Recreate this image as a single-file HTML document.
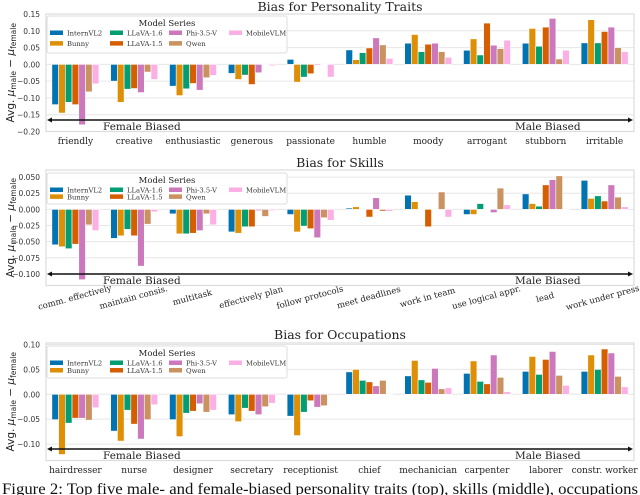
<!DOCTYPE html>
<html><head><meta charset="utf-8">
<style>
html,body{margin:0;padding:0;background:#fff;}
svg{display:block;font-family:"DejaVu Serif","Liberation Serif",serif;}
</style></head>
<body>
<svg id="fig" width="640" height="495" viewBox="0 0 640 495" xmlns="http://www.w3.org/2000/svg"></svg>
<script>
const seriesNames = ["InternVL2","Bunny","LLaVA-1.6","LLaVA-1.5","Phi-3.5-V","Qwen","MobileVLM"];
const seriesColors = ["#0173b2","#de8f05","#029e73","#d55e00","#cc78bc","#ca9161","#fbafe4"];

const traitCats = ["friendly","creative","enthusiastic","generous","passionate","humble","moody","arrogant","stubborn","irritable"];
const traitVals = [
 [-0.12,-0.05,-0.065,-0.027,0.015,0.043,0.063,0.042,0.063,0.064],
 [-0.145,-0.113,-0.093,-0.045,-0.053,0.014,0.089,0.076,0.107,0.133],
 [-0.113,-0.074,-0.073,-0.032,-0.038,0.035,0.038,0.028,0.054,0.064],
 [-0.12,-0.072,-0.057,-0.06,-0.028,0.049,0.060,0.123,0.111,0.098],
 [-0.18,-0.084,-0.077,-0.025,-0.003,0.079,0.063,0.057,0.137,0.111],
 [-0.082,-0.023,-0.04,0.0,0.0,0.058,0.038,0.047,0.016,0.05],
 [-0.058,-0.045,-0.033,-0.004,-0.038,0.018,0.021,0.072,0.042,0.038]
];
const traitTicks = [0.15,0.10,0.05,0.00,-0.05,-0.10,-0.15,-0.20];

const skillCats = ["comm. effectively","maintain consis.","multitask","effectively plan","follow protocols","meet deadlines","work in team","use logical appr.","lead","work under press."];
const skillVals = [
 [-0.055,-0.045,-0.007,-0.035,-0.008,0.002,0.022,-0.008,0.024,0.045],
 [-0.058,-0.041,-0.038,-0.037,-0.035,0.004,0.012,-0.008,0.009,0.017],
 [-0.061,-0.031,-0.038,-0.027,-0.026,0.0,0.0,0.009,0.005,0.021],
 [-0.054,-0.041,-0.037,-0.027,-0.030,-0.012,-0.027,0.0,0.038,0.013],
 [-0.109,-0.088,-0.033,-0.002,-0.044,0.018,0.0,-0.005,0.046,0.038],
 [-0.024,-0.023,-0.007,-0.011,-0.013,-0.003,0.027,0.033,0.052,0.019],
 [-0.033,-0.004,-0.024,-0.002,-0.017,-0.003,-0.012,0.007,0.0,0.004]
];
const skillTicks = [0.05,0.025,0.0,-0.025,-0.05,-0.075,-0.1];
const skillTickLabels = ["0.050","0.025","0.000","\u22120.025","\u22120.050","\u22120.075","\u22120.100"];

const occCats = ["hairdresser","nurse","designer","secretary","receptionist","chief","mechanician","carpenter","laborer","constr. worker"];
const occVals = [
 [-0.051,-0.074,-0.051,-0.041,-0.044,0.045,0.037,0.042,0.046,0.046],
 [-0.121,-0.094,-0.085,-0.055,-0.083,0.050,0.068,0.067,0.076,0.079],
 [-0.058,-0.032,-0.038,-0.028,-0.036,0.028,0.029,0.026,0.040,0.050],
 [-0.048,-0.060,-0.034,-0.034,-0.013,0.025,0.024,0.021,0.070,0.091],
 [-0.048,-0.090,-0.019,-0.041,-0.026,0.017,0.052,0.079,0.086,0.083],
 [-0.052,-0.051,-0.036,-0.025,-0.023,0.028,0.011,0.034,0.038,0.036],
 [-0.027,-0.021,-0.032,-0.018,-0.002,0.0,0.013,0.005,0.018,0.015]
];
const occTicks = [0.10,0.05,0.00,-0.05,-0.10];

const NS="http://www.w3.org/2000/svg";
const svg=document.getElementById('fig');
function mk(tag,attrs,parent){const e=document.createElementNS(NS,tag);for(const k in attrs)e.setAttribute(k,attrs[k]);(parent||svg).appendChild(e);return e;}
function fmt(v){const s=Math.abs(v).toFixed(2);return (v<0?"\u2212":"")+s;}

function panel(o){
  const g=mk('g',{});
  
  
  const L=46,R=634;
  const yS=v=>o.top+(o.ymax-v)/(o.ymax-o.ymin)*(o.bottom-o.top);
  const n=o.cats.length, step=(R-L)/n;
  const xC=i=>L+step*(i+0.5);
  const t=mk('text',{x:340,y:o.titleY,'text-anchor':'middle','font-size':12.5,fill:'#222'},g);
  t.textContent=o.title;
  
  
  o.ticks.forEach((v,k)=>{
    const y=yS(v);
    const gl=mk('line',{x1:L,x2:R,y1:y,y2:y,stroke:'#e6e6e6','stroke-width':1},g);
    
    
    const tl=mk('text',{x:L-6,y:y+3,'text-anchor':'end','font-size':7.5,fill:'#333','font-family':'DejaVu Sans, sans-serif'},g);
    tl.textContent=o.tickLabels?o.tickLabels[k]:fmt(v);
    
    
  });
  const bw=step*0.8/7;
  o.vals.forEach((arr,s)=>{
    arr.forEach((v,i)=>{
      const x=xC(i)-step*0.4+s*bw;
      const y0=yS(0),y1=yS(v);
      const b=mk('rect',{x:x,y:Math.min(y0,y1),width:bw,height:Math.max(0.5,Math.abs(y1-y0)),fill:seriesColors[s],stroke:'#fff','stroke-width':0.6},g);
      
      
    });
  });
  const fr=mk('rect',{x:L,y:o.top,width:R-L,height:o.bottom-o.top,fill:'none',stroke:'#dcdcdc','stroke-width':1.2},g);
  
  
  const ay=o.arrowY;
  const ar=mk('line',{x1:L+3,x2:R-3,y1:ay,y2:ay,stroke:'#111','stroke-width':1.6},g);
  
  
  mk('path',{d:`M${L+1},${ay} l5,-2.5 v5 z`,fill:'#111'},g);
  mk('path',{d:`M${R-1},${ay} l-5,-2.5 v5 z`,fill:'#111'},g);
  const fb=mk('text',{x:103,y:ay+10,'font-size':10.5,fill:'#222'},g);fb.textContent='Female Biased';
  
  const mb=mk('text',{x:515,y:ay+10,'font-size':10.5,fill:'#222'},g);mb.textContent='Male Biased';
  
  o.cats.forEach((c,i)=>{
    const tx=mk('text',{'font-size':o.rot?8.5:9,fill:'#222','text-anchor':'middle'},g);
    tx.textContent=c;
    
    
    if(o.rot){tx.setAttribute('transform',`translate(${xC(i)},${o.labelY}) rotate(-15)`);tx.setAttribute('x',0);tx.setAttribute('y',0);}
    else{tx.setAttribute('x',xC(i));tx.setAttribute('y',o.labelY);}
  });
  const yc=(o.top+o.bottom)/2;
  const yt=mk('text',{transform:`translate(14,${yc}) rotate(-90)`,'text-anchor':'middle','font-size':10.5,fill:'#222','font-family':'DejaVu Sans, sans-serif'},g);
  yt.innerHTML='Avg. <tspan font-style="italic">μ</tspan><tspan font-size="7.5" dy="2">male</tspan><tspan dy="-2"> − </tspan><tspan font-style="italic">μ</tspan><tspan font-size="7.5" dy="2">female</tspan>';
  
  
  const lx=47,ly=o.legY,lw=240,lh=o.legH;
  const lg=mk('g',{},g);
  
  
  mk('rect',{x:lx,y:ly,width:lw,height:lh,fill:'#fff','fill-opacity':0.85,stroke:'#ddd',rx:2},lg);
  const lt=mk('text',{x:lx+lw/2,y:ly+10,'text-anchor':'middle','font-size':8.5,fill:'#222'},lg);
  lt.textContent='Model Series';
  const colX=[lx+3,lx+63,lx+122,lx+182];
  seriesNames.forEach((nm,s)=>{
    const col=Math.floor(s/2),row=s%2;
    const ex=colX[col],ey=ly+17+row*(lh-20)/1.6;
    const e=mk('g',{},lg);
    
    
    mk('rect',{x:ex,y:ey-2.5,width:13,height:4.5,fill:seriesColors[s]},e);
    const et=mk('text',{x:ex+17,y:ey+2.5,'font-size':6.8,fill:'#333'},e);
    et.textContent=nm;
  });
}

panel({name:'personality-traits-panel',title:'Bias for Personality Traits',titleY:11,top:14,bottom:131.5,ymin:-0.2,ymax:0.15,
  cats:traitCats,vals:traitVals,ticks:traitTicks,arrowY:120,labelY:144,legY:16,legH:37});
panel({name:'skills-panel',title:'Bias for Skills',titleY:167,top:170,bottom:285.5,ymin:-0.118,ymax:0.061,
  cats:skillCats,vals:skillVals,ticks:skillTicks,tickLabels:skillTickLabels,arrowY:274,labelY:300,rot:true,legY:173,legH:31});
panel({name:'occupations-panel',title:'Bias for Occupations',titleY:339,top:343,bottom:460.5,ymin:-0.133,ymax:0.103,
  cats:occCats,vals:occVals,ticks:occTicks,arrowY:449,labelY:473,legY:346,legH:32});

const cap=mk('text',{x:2,y:494,'font-size':15.5,fill:'#111',textLength:636,lengthAdjust:'spacingAndGlyphs','font-family':'Liberation Serif, serif'});
cap.textContent='Figure 2:  Top five male- and female-biased personality traits (top), skills (middle), occupations';


</script>
</body></html>
